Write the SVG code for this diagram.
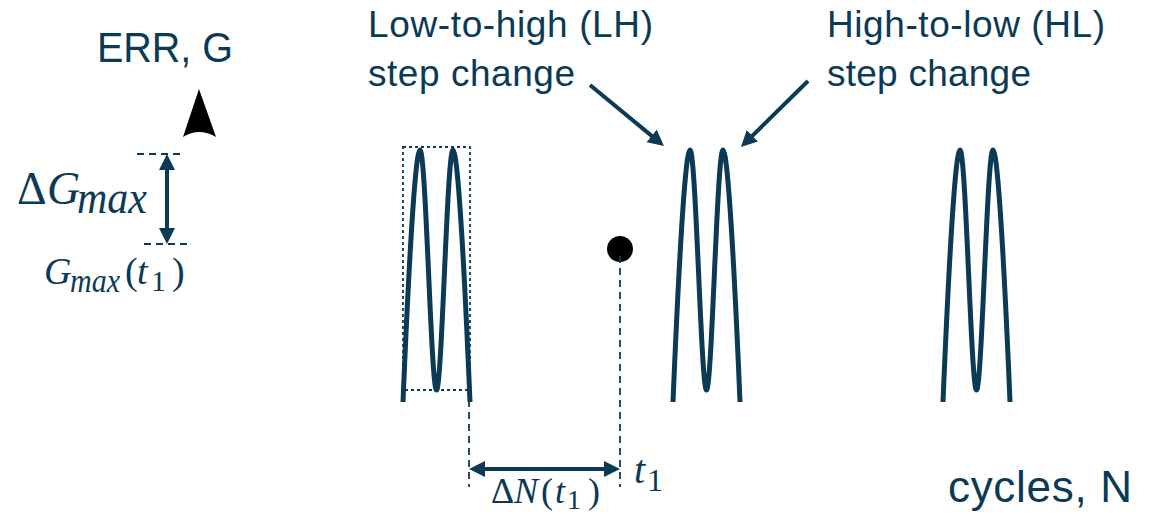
<svg xmlns="http://www.w3.org/2000/svg" width="1156" height="515" viewBox="0 0 1156 515">
  <style>
    .lbl { font-family: "Liberation Sans", Arial, sans-serif; fill: #0A3A56; }
    .m { font-family: "Liberation Serif", "Times New Roman", serif; fill: #0A3A56; }
    .i { font-style: italic; }
    .wave { fill: none; stroke: #0A3A56; stroke-width: 5; stroke-linecap: butt; }
    .dash { fill: none; stroke: #0A3A56; stroke-width: 1.8; stroke-dasharray: 7 5; }
    .dot { fill: none; stroke: #0A3A56; stroke-width: 1.8; stroke-dasharray: 3 3; }
    .arr { fill: none; stroke: #0A3A56; stroke-width: 4; }
  </style>
  <defs>
    <marker id="ah" viewBox="0 0 16 16" refX="4" refY="8" markerWidth="16" markerHeight="16" markerUnits="userSpaceOnUse" orient="auto-start-reverse">
      <path d="M0,0 L16,8 L0,16 Z" fill="#0A3A56"/>
    </marker>
    <path id="wv" class="wave" d="M0,402 C3,330 11,150 17,150 C23,150 28,390 33.5,390 C39,390 44,150 50,150 C56,150 64,330 67,402"/>
  </defs>

  <g id="axis">
    <text class="lbl" x="97" y="62" font-size="42" textLength="136" lengthAdjust="spacingAndGlyphs">ERR, G</text>
    <path d="M199,89 L216,137 Q199,127 183,137 Z" fill="#000"/>
  </g>

  <g id="delta-g">
    <line class="dash" x1="137" y1="154" x2="182" y2="154" stroke-dasharray="5 4"/>
    <line class="dash" x1="144" y1="244" x2="190" y2="244" stroke-dasharray="5 4"/>
    <text class="m" x="17" y="204" font-size="46">Δ</text>
    <text class="m i" x="47" y="204" font-size="46">G</text>
    <text class="m i" x="77" y="213" font-size="46" textLength="70" lengthAdjust="spacingAndGlyphs">max</text>
    <text class="m i" x="44" y="284" font-size="38">G</text>
    <text class="m i" x="70" y="292" font-size="34" textLength="50" lengthAdjust="spacingAndGlyphs">max</text>
    <text class="m" x="125" y="284" font-size="38">(</text>
    <text class="m i" x="137" y="284" font-size="38">t</text>
    <text class="m" x="151" y="291" font-size="30">1</text>
    <text class="m" x="172" y="284" font-size="38">)</text>
  </g>

  <g id="wave1">
    <use href="#wv" x="403"/>
    <rect class="dot" x="403" y="147" width="67" height="243"/>
  </g>
  <g id="wave2">
    <use href="#wv" x="673"/>
  </g>
  <g id="wave3">
    <use href="#wv" x="943"/>
  </g>

  <g id="point-t1">
    <circle cx="620" cy="249" r="13" fill="#000"/>
    <text class="m i" x="634" y="483" font-size="40">t</text>
    <text class="m" x="647" y="491" font-size="32">1</text>
  </g>

  <g id="delta-n-label">
    <text class="m" x="491" y="503" font-size="36">Δ</text>
    <text class="m i" x="514" y="503" font-size="36">N</text>
    <text class="m" x="541" y="503" font-size="36">(</text>
    <text class="m i" x="555" y="503" font-size="36">t</text>
    <text class="m" x="567" y="509" font-size="28">1</text>
    <text class="m" x="588" y="503" font-size="36">)</text>
  </g>

  <g id="label-lh">
    <text class="lbl" x="368" y="37" font-size="37" textLength="285">Low-to-high (LH)</text>
    <text class="lbl" x="368" y="86" font-size="37" textLength="207">step change</text>
  </g>
  <g id="label-hl">
    <text class="lbl" x="827" y="37" font-size="37" textLength="278">High-to-low (HL)</text>
    <text class="lbl" x="827" y="86" font-size="37" textLength="204">step change</text>
  </g>
  <g id="label-n">
    <text class="lbl" x="948" y="502" font-size="44" textLength="184">cycles, N</text>
  </g>

  <g id="connectors">
    <line class="arr" x1="167" y1="166" x2="167" y2="232" stroke-width="3" marker-start="url(#ah)" marker-end="url(#ah)"/>
    <line class="arr" x1="481" y1="469" x2="608" y2="469" stroke-width="3.5" marker-start="url(#ah)" marker-end="url(#ah)"/>
    <line class="dash" x1="469" y1="400" x2="469" y2="487"/>
    <line class="dash" x1="620" y1="256" x2="620" y2="487"/>
    <line class="arr" x1="590" y1="85" x2="654.7" y2="138.4" marker-end="url(#ah)"/>
    <line class="arr" x1="808" y1="81" x2="749.5" y2="138.6" marker-end="url(#ah)"/>
  </g>
</svg>
